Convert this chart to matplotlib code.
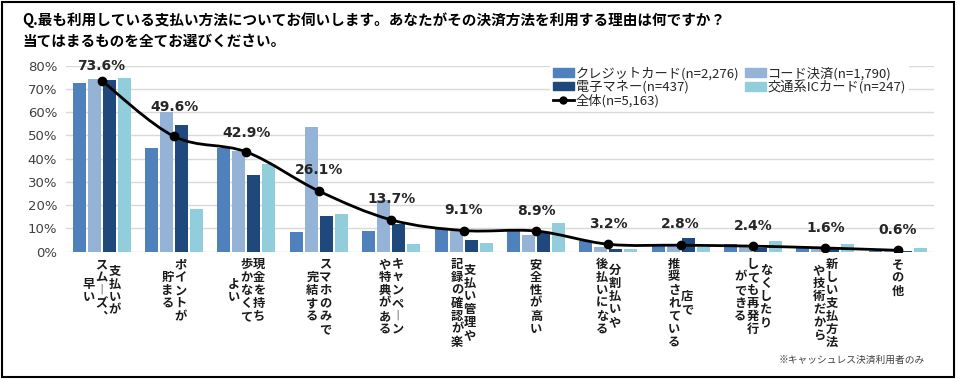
import numpy as np
import matplotlib
matplotlib.use("Agg")
import matplotlib.pyplot as plt
from matplotlib.path import Path
from matplotlib.patches import PathPatch, Rectangle, Patch
from matplotlib.lines import Line2D
from matplotlib import transforms

plt.rcParams['font.family'] = ['Noto Sans CJK JP', 'DejaVu Sans']

# ---------------- data ----------------
title_lines = ["Q.最も利用している支払い方法についてお伺いします。あなたがその決済方法を利用する理由は何ですか？",
               "当てはまるものを全てお選びください。"]
categories = [
    ["支払いが", "スムーズ、", "早い"],
    ["ポイントが", "貯まる"],
    ["現金を持ち", "歩かなくて", "よい"],
    ["スマホのみで", "完結する"],
    ["キャンペーン", "や特典がある"],
    ["支払い管理や", "記録の確認が楽"],
    ["安全性が高い"],
    ["分割払いや", "後払いになる"],
    ["店で", "推奨されている"],
    ["なくしたり", "しても再発行", "ができる"],
    ["新しい支払方法", "や技術だから"],
    ["その他"],
]
series_names = ["クレジットカード(n=2,276)", "コード決済(n=1,790)",
                "電子マネー(n=437)", "交通系ICカード(n=247)"]
credit  = [72.5, 44.7, 44.6,  8.6,  9.0, 9.7, 9.6, 4.7, 2.9, 3.1, 1.4, 0.4]
code    = [74.3, 60.3, 43.1, 53.6, 22.1, 8.9, 7.0, 2.1, 2.4, 2.1, 1.4, 0.3]
emoney  = [74.0, 54.7, 32.9, 15.3, 11.9, 5.0, 8.6, 1.3, 6.1, 1.4, 1.1, 0.3]
transit = [74.5, 18.3, 37.9, 16.1,  3.1, 3.9, 12.4, 1.0, 2.1, 4.6, 3.1, 1.7]
total_name = "全体(n=5,163)"
total = [73.6, 49.6, 42.9, 26.1, 13.7, 9.1, 8.9, 3.2, 2.8, 2.4, 1.6, 0.6]
yticks = [0, 10, 20, 30, 40, 50, 60, 70, 80]
footnote = "※キャッシュレス決済利用者のみ"

# ---------------- style ----------------
colors = ["#4F81BD", "#95B3D7", "#1F497D", "#92CDDC"]
label_offsets_pt = [10.5, 21.5, 14, 15, 15, 14.5, 14.5, 14.5, 15, 14.5, 14.5, 14.5]

W, H = 960, 380
fig = plt.figure(figsize=(W / 100, H / 100), dpi=100)
ax = fig.add_axes([65.5 / W, 1 - 251.7 / H, (934 - 65.5) / W, (251.7 - 65.7) / H])

n = len(total)
x = np.arange(n)
pitch = 0.207
bw = 0.18
for i, (vals, c) in enumerate(zip([credit, code, emoney, transit], colors)):
    ax.bar(x + (i - 1.5) * pitch, vals, width=bw, color=c, zorder=2, linewidth=0)

# smoothed total line (Catmull-Rom -> cubic Bezier in data space)
P = np.column_stack([x, total]).astype(float)
verts = [P[0]]
codes = [Path.MOVETO]
for i in range(n - 1):
    p0 = P[i - 1] if i > 0 else P[i]
    p1 = P[i]
    p2 = P[i + 1]
    p3 = P[i + 2] if i + 2 < n else P[i + 1]
    c1 = p1 + (p2 - p0) / 6.0
    c2 = p2 - (p3 - p1) / 6.0
    verts += [c1, c2, p2]
    codes += [Path.CURVE4] * 3
ax.add_patch(PathPatch(Path(verts, codes), facecolor='none', edgecolor='black',
                       lw=2.0, zorder=4))
ax.plot(x, total, 'o', color='black', markersize=6, zorder=5)

for xi, v, off in zip(x, total, label_offsets_pt):
    ax.annotate(f"{v:.1f}%", (xi, v), xytext=(0, off), textcoords='offset points',
                ha='center', va='center', fontsize=10, fontweight='bold',
                family='DejaVu Sans', color='#262626', zorder=6)

ax.set_xlim(-0.5, n - 0.5)
ax.set_ylim(0, 80)
ax.set_yticks(yticks)
ax.set_yticklabels([f"{t}%" for t in yticks], family='DejaVu Sans', fontsize=9.5,
                   color='#404040')
ax.tick_params(axis='y', length=0, pad=6)
ax.tick_params(axis='x', length=0, labelbottom=False)
ax.grid(axis='y', color='#D9D9D9', lw=1, zorder=0)
ax.set_axisbelow(True)
for s in ax.spines.values():
    s.set_visible(False)

# vertical (tategaki) category labels
def vert(s):
    return s.replace("ー", "︱").replace("、", "︑")

fs = 8.8
ls = 1.0
char_pt = 9.0  # vertical pitch per character in points
col_dx = 0.178
base = transforms.blended_transform_factory(ax.transData, ax.transAxes)
for xi, cols in zip(x, categories):
    ncol = len(cols)
    maxlen = max(len(c) for c in cols)
    center_off = -5.5 - maxlen * char_pt / 2.0
    tr = transforms.offset_copy(base, fig=fig, x=0, y=center_off, units='points')
    for j, col in enumerate(cols):
        cx = xi + ((ncol - 1) / 2.0 - j) * col_dx
        ax.text(cx, 0, "\n".join(vert(col)), transform=tr, ha='center', va='center',
                fontsize=fs, fontweight='bold', linespacing=ls, color='#1a1a1a',
                family=['Noto Sans CJK JP', 'DejaVu Sans'], clip_on=False)

# legend
handles = [Patch(color=colors[0]), Patch(color=colors[2]),
           Line2D([], [], color='black', lw=2, marker='o', markersize=5),
           Patch(color=colors[1]), Patch(color=colors[3])]
labels = [series_names[0], series_names[2], total_name, series_names[1], series_names[3]]
leg = ax.legend(handles, labels, ncol=2, loc='upper left',
                bbox_to_anchor=(550 / W, 1 - 64 / H), bbox_transform=fig.transFigure,
                frameon=True, fancybox=False, edgecolor='none', facecolor='white',
                framealpha=1, fontsize=9.5, handlelength=1.6, handleheight=0.6,
                handletextpad=0.15, labelspacing=0.0, columnspacing=0.4,
                borderpad=0.2, borderaxespad=0)
leg.set_zorder(10)
for t in leg.get_texts():
    t.set_color('#262626')

# title
fig.text(22 / W, 1 - 20 / H, title_lines[0], fontsize=10.5, fontweight='bold',
         ha='left', va='center', color='black')
fig.text(22 / W, 1 - 41 / H, title_lines[1], fontsize=10.5, fontweight='bold',
         ha='left', va='center', color='black')

# footnote
fig.text(925 / W, 1 - 360 / H, footnote, fontsize=7, ha='right', va='center',
         color='#404040')

# outer frame
fig.patches.append(Rectangle((1.5 / W, 3 / H), (954 - 1.5) / W, (378.5 - 3) / H,
                             transform=fig.transFigure, fill=False,
                             edgecolor='black', lw=1.5))

fig.savefig("out.png", dpi=100, facecolor='white')
